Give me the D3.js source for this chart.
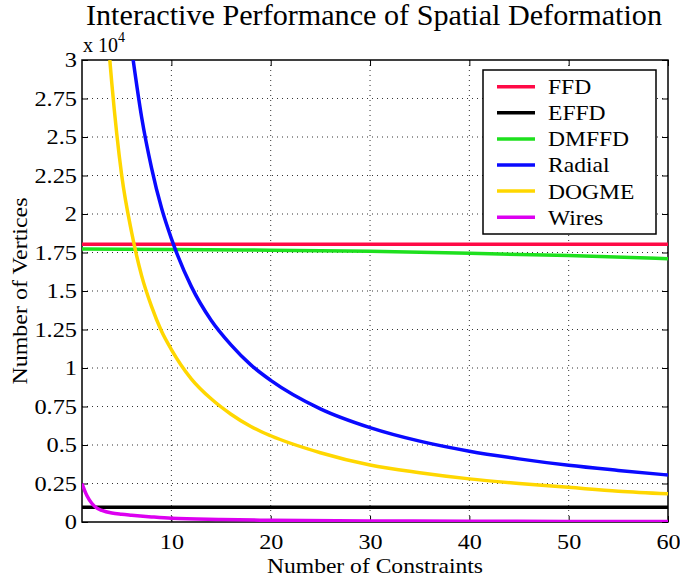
<!DOCTYPE html>
<html>
<head>
<meta charset="utf-8">
<script src="https://cdn.jsdelivr.net/npm/d3@7"></script>
<style>
  body { margin: 0; background: #fff; }
  svg text { font-family: "Liberation Serif", "Times New Roman", serif; fill: #000; }
</style>
</head>
<body>
<div id="chart"></div>
<script>
// data, values in units of 10^4 vertices
var ffdX = [1, 60];
var ffdY = [1.803, 1.803];
var effdX = [1, 60];
var effdY = [0.095, 0.095];
var dmffdX = [1, 10, 20, 30, 40, 50, 60];
var dmffdY = [1.773, 1.770, 1.765, 1.758, 1.745, 1.730, 1.710];
var radialX = [6.15, 7, 8, 9, 10, 12, 14, 16, 18, 20, 25, 30, 35, 40, 45, 50, 55, 60];
var radialY = [3.0, 2.63, 2.3, 2.04, 1.84, 1.53, 1.31, 1.15, 1.02, 0.92, 0.735, 0.613, 0.525, 0.46, 0.41, 0.368, 0.335, 0.305];
var dogmeX = [3.8, 4, 5, 6, 7, 8, 9, 10, 12, 14, 16, 18, 20, 25, 30, 35, 40, 45, 50, 55, 60];
var dogmeY = [3.0, 2.85, 2.25, 1.88, 1.6, 1.4, 1.24, 1.12, 0.93, 0.8, 0.7, 0.62, 0.56, 0.45, 0.37, 0.32, 0.28, 0.25, 0.225, 0.2, 0.183];
var wiresX = [1, 1.5, 2, 2.5, 3, 4, 5, 6, 8, 10, 15, 20, 30, 40, 50, 60];
var wiresY = [0.25, 0.17, 0.12, 0.09, 0.075, 0.058, 0.05, 0.044, 0.033, 0.024, 0.016, 0.011, 0.007, 0.005, 0.004, 0.003];

var seriesNames = ["FFD", "EFFD", "DMFFD", "Radial", "DOGME", "Wires"];
var seriesColors = ["#ff0a46", "#000000", "#1ee01e", "#0a0aff", "#ffd700", "#dc00f0"];
var xTicks = [10, 20, 30, 40, 50, 60];
var yTicks = [0, 0.25, 0.5, 0.75, 1, 1.25, 1.5, 1.75, 2, 2.25, 2.5, 2.75, 3];

var allX = [ffdX, effdX, dmffdX, radialX, dogmeX, wiresX];
var allY = [ffdY, effdY, dmffdY, radialY, dogmeY, wiresY];

var serif = "'Liberation Serif', 'Times New Roman', serif";

// plot box
var margin = {top: 60, right: 12, bottom: 59, left: 82},
    width = 680 - margin.left - margin.right,
    height = 581 - margin.top - margin.bottom;

var svg = d3.select("#chart").append("svg")
    .attr("width", 680)
    .attr("height", 581)
    .style("font-family", serif);

var g = svg.append("g")
    .attr("transform", "translate(" + margin.left + "," + margin.top + ")");

var x = d3.scaleLinear().domain([1, 60]).range([0, width]);
var y = d3.scaleLinear().domain([0, 3]).range([height, 0]);

// stretch text horizontally to the width seen in the picture
function stretch(sel, k) {
  sel.each(function() {
    var w = this.getComputedTextLength();
    d3.select(this).attr("textLength", w * k).attr("lengthAdjust", "spacingAndGlyphs");
  });
}

// grid, dotted
g.append("g").selectAll("line.gx")
  .data(xTicks.filter(function(d) { return d < 60; }))
  .enter().append("line")
    .attr("x1", function(d) { return x(d); })
    .attr("x2", function(d) { return x(d); })
    .attr("y1", 0).attr("y2", height)
    .attr("stroke", "#333").attr("stroke-width", 1)
    .attr("stroke-dasharray", "1,4");
g.append("g").selectAll("line.gy")
  .data(yTicks.filter(function(d) { return d > 0 && d < 3; }))
  .enter().append("line")
    .attr("x1", 0).attr("x2", width)
    .attr("y1", function(d) { return y(d); })
    .attr("y2", function(d) { return y(d); })
    .attr("stroke", "#333").attr("stroke-width", 1)
    .attr("stroke-dasharray", "1,4");

// axes with inward ticks on every side
var tl = 6;
var xAxis = g.append("g").attr("transform", "translate(0," + height + ")")
    .call(d3.axisBottom(x).tickValues(xTicks).tickSizeInner(-tl).tickSizeOuter(0).tickPadding(12));
var xAxisTop = g.append("g")
    .call(d3.axisTop(x).tickValues(xTicks).tickSizeInner(-tl).tickSizeOuter(0).tickFormat(""));
var yAxis = g.append("g")
    .call(d3.axisLeft(y).tickValues(yTicks).tickSizeInner(-tl).tickSizeOuter(0).tickPadding(5)
      .tickFormat(function(d) { return d3.format("")(d); }));
var yAxisR = g.append("g").attr("transform", "translate(" + width + ",0)")
    .call(d3.axisRight(y).tickValues(yTicks).tickSizeInner(-tl).tickSizeOuter(0).tickFormat(""));

[xAxis, xAxisTop, yAxis, yAxisR].forEach(function(a) {
  a.attr("font-family", serif).attr("font-size", 21);
  a.select(".domain").remove();
  a.selectAll("line").attr("stroke", "#000").attr("stroke-width", 1);
});
xAxis.selectAll("text").style("font-family", serif).style("font-size", "21px");
yAxis.selectAll("text").style("font-family", serif).style("font-size", "21px");
xAxis.selectAll("text").call(stretch, 1.15);
yAxis.selectAll("text").call(stretch, 1.16);

// box
g.append("rect")
    .attr("width", width).attr("height", height)
    .attr("fill", "none").attr("stroke", "#000").attr("stroke-width", 1.5);

// lines
g.append("clipPath").attr("id", "clip")
  .append("rect").attr("width", width).attr("height", height);

var line = d3.line()
    .x(function(d) { return x(d[0]); })
    .y(function(d) { return y(d[1]); })
    .curve(d3.curveMonotoneX);

var lines = g.append("g").attr("clip-path", "url(#clip)");
seriesNames.forEach(function(name, i) {
  var pts = d3.zip(allX[i], allY[i]);
  lines.append("path")
      .datum(pts)
      .attr("fill", "none")
      .attr("stroke", seriesColors[i])
      .attr("stroke-width", 3.5)
      .attr("d", line);
});

// legend
var legend = svg.append("g").attr("transform", "translate(483,70)");
legend.append("rect")
    .attr("width", 173).attr("height", 164)
    .attr("fill", "#fff").attr("stroke", "#000").attr("stroke-width", 1.5);
var rows = legend.selectAll("g.row")
  .data(seriesNames)
  .enter().append("g")
    .attr("transform", function(d, i) { return "translate(0," + (16.7 + i * 26.1) + ")"; });
rows.append("line")
    .attr("x1", 14).attr("x2", 52)
    .attr("stroke", function(d, i) { return seriesColors[i]; })
    .attr("stroke-width", 3.5);
rows.append("text")
    .attr("x", 65).attr("dy", "0.34em")
    .style("font-family", serif)
    .style("font-size", "22px")
    .text(function(d) { return d; })
    .call(stretch, 1.07);

// title and labels
svg.append("text")
    .attr("x", 86).attr("y", 25)
    .style("font-size", "29px")
    .attr("textLength", 576).attr("lengthAdjust", "spacingAndGlyphs")
    .text("Interactive Performance of Spatial Deformation");

svg.append("text")
    .attr("x", 375).attr("y", 573)
    .attr("text-anchor", "middle")
    .style("font-size", "22px")
    .attr("textLength", 216).attr("lengthAdjust", "spacingAndGlyphs")
    .text("Number of Constraints");

svg.append("text")
    .attr("transform", "translate(27,291) rotate(-90)")
    .attr("text-anchor", "middle")
    .style("font-size", "21px")
    .attr("textLength", 187).attr("lengthAdjust", "spacingAndGlyphs")
    .text("Number of Vertices");

var expo = svg.append("text").attr("x", 83).attr("y", 52).style("font-size", "20px");
expo.append("tspan").text("x 10");
expo.append("tspan").attr("dy", -10).style("font-size", "14px").text("4");
</script>
</body>
</html>
